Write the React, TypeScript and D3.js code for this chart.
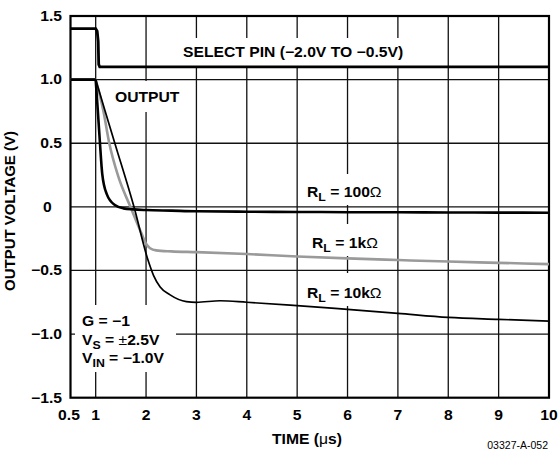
import React from "react";
import * as d3 from "d3";

const xTicks = [0.5, 1, 2, 3, 4, 5, 6, 7, 8, 9, 10];
const xTickLabels = ["0.5", "1", "2", "3", "4", "5", "6", "7", "8", "9", "10"];
const yTicks = [1.5, 1.0, 0.5, 0, -0.5, -1.0, -1.5];
const yTickLabels = ["1.5", "1.0", "0.5", "0", "\u22120.5", "\u22121.0", "\u22121.5"];
const xGrid = [1, 2, 3, 4, 5, 6, 7, 8, 9];
const yGrid = [1.0, 0.5, 0, -0.5, -1.0];

const selectT = [0.5, 1.0, 1.03, 1.05, 1.06, 1.08, 10];
const selectV = [1.4, 1.4, 1.38, 1.3, 1.12, 1.1, 1.1];

const r100T = [0.5, 1.0, 1.04, 1.085, 1.13, 1.22, 1.38, 1.55, 1.75, 2.0, 2.5, 3.0, 4, 5, 6, 7, 8, 9, 10];
const r100V = [1.0, 1.0, 0.77, 0.5, 0.26, 0.1, 0.014, -0.012, -0.02, -0.025, -0.03, -0.035, -0.038, -0.04, -0.042, -0.043, -0.044, -0.045, -0.046];

const r1kT = [0.5, 1.0, 1.15, 1.27, 1.45, 1.69, 1.91, 2.0, 2.08, 2.2, 2.5, 3, 4, 5, 6, 7, 8, 9, 10];
const r1kV = [1.0, 1.0, 0.76, 0.5, 0.237, 0.0, -0.21, -0.29, -0.325, -0.342, -0.35, -0.356, -0.371, -0.39, -0.405, -0.418, -0.43, -0.44, -0.45];

const r10kT = [0.5, 1.0, 1.38, 1.76, 2.04, 2.15, 2.28, 2.47, 2.8, 3.0, 3.47, 4.0, 4.86, 6, 7, 8, 9, 10];
const r10kV = [1.0, 1.0, 0.5, 0.0, -0.42, -0.54, -0.63, -0.69, -0.745, -0.75, -0.738, -0.75, -0.772, -0.806, -0.837, -0.869, -0.884, -0.898];

const FONT = "'Liberation Sans', Arial, Helvetica, sans-serif";
const SX = 1.12;

function T({ x, y, anchor = "start", size = 14, weight = "bold", sx = SX, rotate = 0, children }: any) {
  return (
    <text
      transform={`translate(${x},${y})${rotate ? ` rotate(${rotate})` : ""} scale(${sx},1)`}
      textAnchor={anchor}
      fontSize={size}
      fontWeight={weight}
      fontFamily={FONT}
      fill="#000"
    >
      {children}
    </text>
  );
}

function RL({ x, y, val }: { x: number; y: number; val: string }) {
  return (
    <T x={x} y={y}>
      R<tspan fontSize={11} dy={4}>L</tspan>
      <tspan dy={-4}>{` = ${val}`}</tspan>
      <tspan fontWeight="normal">{"\u03A9"}</tspan>
    </T>
  );
}

export default function App() {
  const x = d3.scaleLinear().domain([0.5, 10]).range([70.5, 549]);
  const y = d3.scaleLinear().domain([-1.5, 1.5]).range([397.7, 16]);
  const lin = (ts: number[], vs: number[], curve: any) =>
    d3
      .line<number>()
      .x((_, i) => x(ts[i]))
      .y((v) => y(v))
      .curve(curve)(vs) as string;
  // flat lead-in drawn straight, then the smooth response from t = 1.0
  const mk = (ts: number[], vs: number[]) =>
    lin(ts.slice(0, 2), vs.slice(0, 2), d3.curveLinear) +
    lin(ts.slice(1), vs.slice(1), d3.curveMonotoneX);

  const boxes = [
    { x0: 180, x1: 410, y0: 38, y1: 66 },
    { x0: 106, x1: 190, y0: 81, y1: 112 },
    { x0: 300, x1: 390, y0: 174, y1: 205 },
    { x0: 300, x1: 390, y0: 224, y1: 256 },
    { x0: 300, x1: 390, y0: 273, y1: 306 },
    { x0: 75, x1: 176, y0: 305, y1: 372 },
  ];

  return (
    <svg
      width={559}
      height={455}
      style={{ position: "absolute", left: 0, top: 0, background: "#fff" }}
    >
      <rect x={0} y={0} width={559} height={455} fill="#fff" />
      {xGrid.map((g) => (
        <line key={"vx" + g} x1={x(g)} x2={x(g)} y1={y(1.5)} y2={y(-1.5)} stroke="#111" strokeWidth={1.3} />
      ))}
      {yGrid.map((g) => (
        <line key={"hy" + g} x1={x(0.5)} x2={x(10)} y1={y(g)} y2={y(g)} stroke="#111" strokeWidth={1.3} />
      ))}
      {boxes.map((b, i) => (
        <rect key={"b" + i} x={b.x0} y={b.y0} width={b.x1 - b.x0} height={b.y1 - b.y0} fill="#fff" />
      ))}
      <rect
        x={x(0.5)}
        y={y(1.5)}
        width={x(10) - x(0.5)}
        height={y(-1.5) - y(1.5)}
        fill="none"
        stroke="#000"
        strokeWidth={2.2}
      />
      <path d={mk(r1kT, r1kV)} fill="none" stroke="#9a9a9a" strokeWidth={2.6} />
      <path d={mk(r10kT, r10kV)} fill="none" stroke="#000" strokeWidth={1.7} />
      <path d={mk(r100T, r100V)} fill="none" stroke="#000" strokeWidth={2.6} />
      <path d={lin(selectT, selectV, d3.curveLinear)} fill="none" stroke="#000" strokeWidth={2.8} />

      {yTicks.map((t, i) =>
        t === 0 ? (
          <T key={"yt" + i} x={43} y={y(t) + 4.8}>{yTickLabels[i]}</T>
        ) : (
          <T key={"yt" + i} x={62} y={y(t) + 4.8} anchor="end">{yTickLabels[i]}</T>
        )
      )}
      {xTicks.map((t, i) => (
        <T key={"xt" + i} x={x(t) - (t === 0.5 ? 1.5 : 0)} y={419.5} anchor="middle">{xTickLabels[i]}</T>
      ))}

      <T x={15} y={211} anchor="middle" rotate={-90} sx={1.07}>OUTPUT VOLTAGE (V)</T>
      <T x={307} y={443.5} anchor="middle">
        TIME (<tspan fontWeight="normal">{"\u03BC"}</tspan>s)
      </T>
      <T x={548} y={448.5} anchor="end" size={10.5} weight="normal" sx={1}>03327-A-052</T>

      <T x={183} y={57}>SELECT PIN ({"\u2212"}2.0V TO {"\u2212"}0.5V)</T>
      <T x={115} y={102}>OUTPUT</T>
      <RL x={307} y={197} val="100" />
      <RL x={312} y={248} val="1k" />
      <RL x={307} y={298} val="10k" />

      <T x={82} y={326}>G = {"\u2212"}1</T>
      <T x={82} y={344.5}>
        V<tspan fontSize={11} dy={4}>S</tspan>
        <tspan dy={-4}> = </tspan>
        <tspan fontWeight="normal">{"\u00B1"}</tspan>2.5V
      </T>
      <T x={82} y={362.5}>
        V<tspan fontSize={11} dy={4}>IN</tspan>
        <tspan dy={-4}>{" = \u22121.0V"}</tspan>
      </T>
    </svg>
  );
}
